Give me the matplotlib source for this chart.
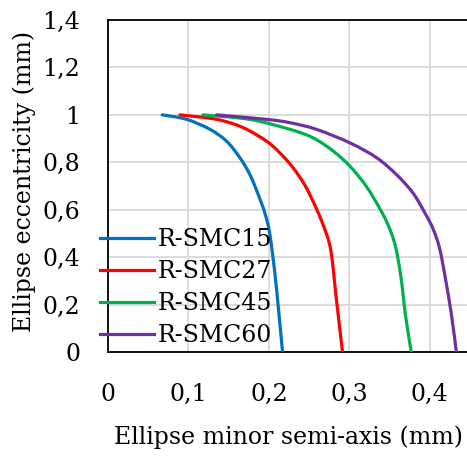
import numpy as np
import matplotlib
matplotlib.use("Agg")
import matplotlib.pyplot as plt
from matplotlib.path import Path
from matplotlib.patches import PathPatch
from matplotlib.lines import Line2D

# minor semi-axis (mm) vs eccentricity for each specimen
smc15_x = [0.0675, 0.0977, 0.1267, 0.1474, 0.164, 0.1764, 0.1867, 0.195, 0.201, 0.2075, 0.2125, 0.217]
smc15_y = [1.000, 0.981, 0.939, 0.889, 0.819, 0.748, 0.664, 0.586, 0.500, 0.330, 0.160, 0.000]

smc27_x = [0.0894, 0.135, 0.168, 0.197, 0.2135, 0.230, 0.2445, 0.257, 0.267, 0.275, 0.279, 0.283, 0.2915]
smc27_y = [1.000, 0.981, 0.946, 0.889, 0.840, 0.777, 0.705, 0.620, 0.540, 0.460, 0.380, 0.250, 0.000]

smc45_x = [0.118, 0.176, 0.226, 0.255, 0.280, 0.3006, 0.321, 0.337, 0.348, 0.357, 0.364, 0.370, 0.377]
smc45_y = [1.000, 0.981, 0.939, 0.903, 0.847, 0.784, 0.699, 0.610, 0.537, 0.450, 0.320, 0.150, 0.000]

smc60_x = [0.135, 0.197, 0.226, 0.259, 0.3006, 0.334, 0.3586, 0.379, 0.394, 0.404, 0.412, 0.4186, 0.427, 0.433]
smc60_y = [1.000, 0.981, 0.967, 0.939, 0.882, 0.819, 0.748, 0.671, 0.586, 0.520, 0.440, 0.326, 0.156, 0.000]

labels = ["R-SMC15", "R-SMC27", "R-SMC45", "R-SMC60"]
colors = ["#0070C0", "#FF0000", "#00B050", "#7030A0"]

x_ticks = [0, 0.1, 0.2, 0.3, 0.4]
x_tick_labels = ["0", "0,1", "0,2", "0,3", "0,4"]
y_ticks = [0, 0.2, 0.4, 0.6, 0.8, 1.0, 1.2, 1.4]
y_tick_labels = ["0", "0,2", "0,4", "0,6", "0,8", "1", "1,2", "1,4"]


def smooth_path(xs, ys, ax):
    # spreadsheet-style smoothed line: Bezier segments with Catmull-Rom handles,
    # built in display space so the tangents follow the drawn aspect
    pts = ax.transData.transform(np.column_stack([xs, ys]))
    n = len(pts)
    verts = [pts[0]]
    codes = [Path.MOVETO]
    for i in range(n - 1):
        p0 = pts[max(i - 1, 0)]
        p1 = pts[i]
        p2 = pts[i + 1]
        p3 = pts[min(i + 2, n - 1)]
        c1 = p1 + (p2 - p0) / 6.0
        c2 = p2 - (p3 - p1) / 6.0
        verts += [c1, c2, p2]
        codes += [Path.CURVE4] * 3
    verts = ax.transData.inverted().transform(np.array(verts))
    return Path(verts, codes)


plt.rcParams["font.family"] = ["DejaVu Serif"]
fs = 17

W, H = 467, 457
fig = plt.figure(figsize=(W / 100, H / 100), dpi=100)
ax = fig.add_axes([108 / W, (H - 352) / H, 362 / W, 332 / H])

ax.set_xlim(0, 0.45)
ax.set_ylim(0, 1.4)

series = [(smc15_x, smc15_y), (smc27_x, smc27_y), (smc45_x, smc45_y), (smc60_x, smc60_y)]
for (xs, ys), c in zip(series, colors):
    ax.add_patch(PathPatch(smooth_path(xs, ys, ax), fill=False, edgecolor=c,
                           lw=2.3, capstyle="round", joinstyle="round", zorder=3))

ax.set_xticks(x_ticks)
ax.set_xticklabels(x_tick_labels)
ax.set_yticks(y_ticks)
ax.set_yticklabels(y_tick_labels)
ax.tick_params(axis="both", length=0, labelsize=fs)
ax.tick_params(axis="x", pad=22)
ax.tick_params(axis="y", pad=20)

ax.grid(True, color="#D9D9D9", lw=1.3)
ax.set_axisbelow(True)
for side in ["left", "top", "bottom"]:
    ax.spines[side].set_color("black")
    ax.spines[side].set_linewidth(1.3)
ax.spines["right"].set_visible(False)

ax.set_xlabel("Ellipse minor semi-axis (mm)", fontsize=fs, labelpad=14)
ax.set_ylabel("Ellipse eccentricity (mm)", fontsize=fs)
ax.yaxis.set_label_coords(-0.199, 0.515)

handles = [Line2D([], [], color=c, lw=2.3) for c in colors]
leg = ax.legend(handles, labels, loc="upper left",
                bbox_to_anchor=(100 / W, (H - 228) / H),
                bbox_transform=fig.transFigure, frameon=False, fontsize=fs,
                handlelength=2.3, handletextpad=0.15, labelspacing=0.385,
                borderpad=0, borderaxespad=0)

fig.savefig("out.png", dpi=100)
